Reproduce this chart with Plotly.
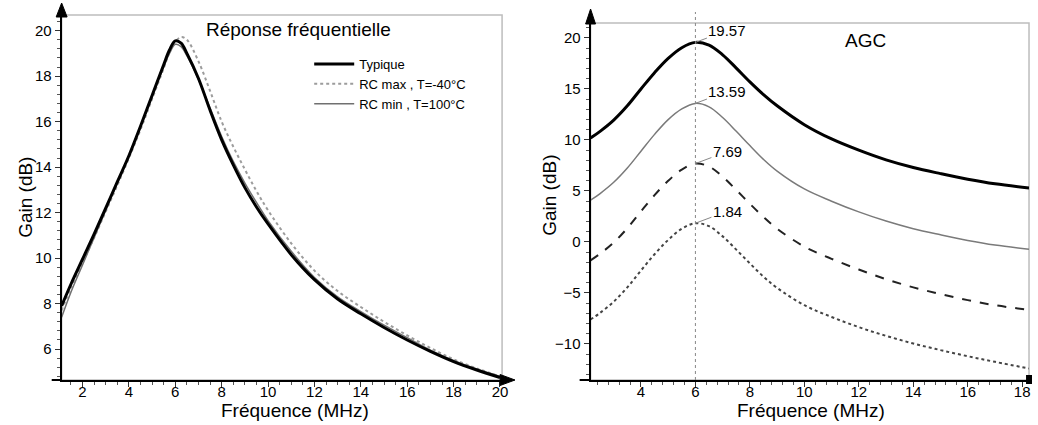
import plotly.graph_objects as go

# ---------------- data ----------------
freq_left = [1.1, 1.5, 2, 2.5, 3, 3.5, 4, 4.5, 5, 5.5, 5.75, 6, 6.25, 6.5, 7, 7.5, 8, 8.5, 9, 9.5, 10,
             11, 12, 13, 14, 15, 16, 17, 18, 19, 20]
typique = [7.9, 8.85, 9.95, 11.05, 12.2, 13.35, 14.5, 15.8, 17.15, 18.5, 19.15, 19.55, 19.45, 19.0, 17.9, 16.5,
           15.2, 14.1, 13.1, 12.25, 11.5, 10.15, 9.05, 8.2, 7.55, 6.95, 6.4, 5.9, 5.45, 5.08, 4.75]
rc_max = [7.7, 8.7, 9.8, 10.9, 12.05, 13.2, 14.4, 15.65, 17.0, 18.35, 19.05, 19.5, 19.72, 19.6, 18.65, 17.35,
          16.0, 14.9, 13.9, 12.95, 12.1, 10.65, 9.45, 8.55, 7.85, 7.2, 6.6, 6.05, 5.55, 5.15, 4.8]
rc_min = [7.4, 8.5, 9.7, 10.9, 12.1, 13.3, 14.5, 15.8, 17.1, 18.4, 19.0, 19.4, 19.3, 18.9, 17.85, 16.6,
          15.35, 14.25, 13.3, 12.45, 11.65, 10.3, 9.15, 8.3, 7.65, 7.05, 6.5, 5.95, 5.5, 5.12, 4.8]
legend_names = ["Typique", "RC max , T=-40°C", "RC min , T=100°C"]

freq_right = [2.15, 2.5, 3, 3.5, 4, 4.5, 5, 5.5, 6, 6.5, 7, 7.5, 8, 8.5, 9, 10, 11, 12, 13, 14, 15, 16, 17, 18.25]
agc_1 = [10.2, 10.85, 11.95, 13.35, 15.0, 16.6, 18.0, 19.05, 19.57, 19.3, 18.35, 17.05, 15.7, 14.45, 13.35,
         11.5, 10.1, 9.0, 8.05, 7.3, 6.7, 6.15, 5.7, 5.3]
agc_2 = [4.1, 4.75, 5.85, 7.25, 8.9, 10.55, 12.0, 13.05, 13.59, 13.25, 12.2, 10.85, 9.45, 8.1, 6.95,
         5.2, 4.0, 2.95, 2.05, 1.3, 0.7, 0.15, -0.3, -0.7]
agc_3 = [-1.8, -1.15, -0.05, 1.35, 3.0, 4.6, 6.0, 7.1, 7.69, 7.4, 6.4, 5.1, 3.75, 2.45, 1.3,
         -0.45, -1.65, -2.7, -3.65, -4.45, -5.1, -5.7, -6.2, -6.65]
agc_4 = [-7.6, -6.95, -5.85, -4.45, -2.8, -1.2, 0.2, 1.3, 1.84, 1.55, 0.55, -0.75, -2.1, -3.4, -4.5,
         -6.2, -7.35, -8.35, -9.2, -9.95, -10.6, -11.2, -11.75, -12.4]
marker_freq = 6

left_xticks = [2, 4, 6, 8, 10, 12, 14, 16, 18, 20]
left_yticks = [6, 8, 10, 12, 14, 16, 18, 20]
right_xticks = [4, 6, 8, 10, 12, 14, 16, 18]
right_yticks = [-10, -5, 0, 5, 10, 15, 20]

# ---------------- figure ----------------
W, H = 1038, 425
FONT = "Liberation Sans, Arial, sans-serif"


def px(x):
    return x / W


def py(y):
    return 1 - y / H


fig = go.Figure()

fig.add_trace(go.Scatter(x=freq_left, y=rc_max, name=legend_names[1], mode="lines",
                         line=dict(color="#9c9c9c", width=2, dash="dot", shape="spline"),
                         xaxis="x", yaxis="y", legendrank=2))
fig.add_trace(go.Scatter(x=freq_left, y=rc_min, name=legend_names[2], mode="lines",
                         line=dict(color="#707070", width=1.5, shape="spline"),
                         xaxis="x", yaxis="y", legendrank=3))
fig.add_trace(go.Scatter(x=freq_left, y=typique, name=legend_names[0], mode="lines",
                         line=dict(color="black", width=3, shape="spline"),
                         xaxis="x", yaxis="y", legendrank=1))

styles = [dict(color="black", width=3),
          dict(color="#7a7a7a", width=1.5),
          dict(color="#222222", width=2, dash="dash"),
          dict(color="#444444", width=2, dash="dot")]
for series, st in zip([agc_1, agc_2, agc_3, agc_4], styles):
    fig.add_trace(go.Scatter(x=freq_right, y=series, mode="lines", showlegend=False,
                             line=dict(shape="spline", **st), xaxis="x2", yaxis="y2"))
    i = series.index(max(series))
    fig.add_annotation(x=freq_right[i], y=series[i], xref="x2", yref="y2",
                       text=f"{series[i]:.2f}", showarrow=True, arrowhead=0,
                       arrowwidth=1, arrowcolor="#888", ax=32, ay=-12,
                       font=dict(family=FONT, size=15, color="black"))

tickfont = dict(family=FONT, size=15, color="black")
common_axis = dict(showgrid=False, zeroline=False, showline=True, linecolor="black",
                   linewidth=2, ticks="outside", ticklen=5, tickwidth=1, tickcolor="#333",
                   tickfont=tickfont)

fig.update_layout(
    width=W, height=H, margin=dict(l=0, r=0, t=0, b=0),
    paper_bgcolor="white", plot_bgcolor="white",
    xaxis=dict(domain=[px(62), px(505)], range=[1.1, 20.09], tickvals=left_xticks,
               anchor="y", ticklabelstandoff=-8,
               minor=dict(dtick=0.5, tick0=0, ticks="outside", ticklen=3, tickcolor="#555"),
               **common_axis),
    yaxis=dict(domain=[py(380), py(15)], range=[4.64, 20.69], tickvals=left_yticks,
               anchor="x",
               minor=dict(dtick=0.4, tick0=0, ticks="outside", ticklen=3, tickcolor="#555"),
               **common_axis),
    xaxis2=dict(domain=[px(594), px(1035)], range=[2.15, 18.25], tickvals=right_xticks,
                anchor="y2", ticklabelstandoff=-8,
                minor=dict(dtick=0.4, tick0=0, ticks="outside", ticklen=3, tickcolor="#555"),
                **common_axis),
    yaxis2=dict(domain=[py(380), py(23)], range=[-13.53, 21.47], tickvals=right_yticks,
                anchor="x2",
                minor=dict(dtick=1, tick0=0, ticks="outside", ticklen=3, tickcolor="#555"),
                **common_axis),
    legend=dict(x=px(311), y=py(49), xanchor="left", yanchor="top",
                bgcolor="rgba(0,0,0,0)", font=dict(family=FONT, size=13, color="black"),
                tracegroupgap=0, itemwidth=40),
    font=dict(family=FONT),
)


# text: panel titles and axis titles
def label(x, y, text, size, angle=0):
    fig.add_annotation(x=px(x), y=py(y), xref="paper", yref="paper", text=text, showarrow=False,
                       xanchor="center", yanchor="middle", textangle=angle,
                       font=dict(family=FONT, size=size, color="black"))


label(300, 30, "Réponse fréquentielle", 19)
label(871, 40, "AGC", 19)
label(297, 410, "Fréquence (MHz)", 19)
label(816, 410, "Fréquence (MHz)", 19)
label(25, 197, "Gain (dB)", 19, -90)
label(553, 195, "Gain (dB)", 19, -90)

# gray frames
fig.add_shape(type="rect", xref="paper", yref="paper", x0=px(62), x1=px(505), y0=py(380), y1=py(15),
              line=dict(color="#bdbdbd", width=1.5), layer="below")
fig.add_shape(type="rect", xref="paper", yref="paper", x0=px(594), x1=px(1035), y0=py(380), y1=py(23),
              line=dict(color="#bdbdbd", width=1.5), layer="below")

# marker line at 6 MHz
fig.add_shape(type="line", xref="x2", yref="paper", x0=marker_freq, x1=marker_freq, y0=py(380), y1=py(12),
              line=dict(color="#888", width=1, dash="dot"))

# axis extensions and arrowheads
fig.add_shape(type="line", xref="paper", yref="paper", x0=px(52), x1=px(62), y0=py(380), y1=py(380),
              line=dict(color="black", width=2))
fig.add_shape(type="line", xref="paper", yref="paper", x0=px(62), x1=px(62), y0=py(15), y1=py(8),
              line=dict(color="black", width=2))
fig.add_shape(type="path", xref="paper", yref="paper",
              path=f"M {px(62)},{py(3)} L {px(56.5)},{py(17)} L {px(67.5)},{py(17)} Z",
              fillcolor="black", line=dict(color="black", width=1))
fig.add_shape(type="path", xref="paper", yref="paper",
              path=f"M {px(518)},{py(380)} L {px(503)},{py(374.5)} L {px(503)},{py(385.5)} Z",
              fillcolor="black", line=dict(color="black", width=1))
fig.add_shape(type="line", xref="paper", yref="paper", x0=px(583), x1=px(594), y0=py(380), y1=py(380),
              line=dict(color="black", width=2))
fig.add_shape(type="path", xref="paper", yref="paper",
              path=f"M {px(594)},{py(9)} L {px(589)},{py(24)} L {px(599)},{py(24)} Z",
              fillcolor="black", line=dict(color="black", width=1))
fig.add_shape(type="rect", xref="paper", yref="paper", x0=px(1032), x1=px(1038), y0=py(384), y1=py(375),
              fillcolor="black", line=dict(color="black", width=0))

fig.write_html("out.html", config={"displayModeBar": False},
               post_script="document.body.style.margin='0';document.body.style.padding='0';")
